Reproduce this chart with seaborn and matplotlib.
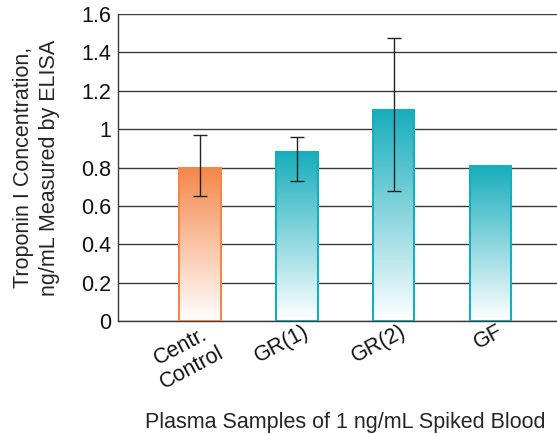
import matplotlib
matplotlib.use("Agg")
import matplotlib.pyplot as plt
import numpy as np
import pandas as pd
import seaborn as sns
from matplotlib.colors import LinearSegmentedColormap
from matplotlib.transforms import ScaledTranslation

samples = ['Centr.\nControl', 'GR(1)', 'GR(2)', 'GF']
conc = [0.80, 0.88, 1.10, 0.81]
err_low = [0.65, 0.73, 0.68, np.nan]
err_high = [0.97, 0.96, 1.475, np.nan]
top_colors = ['#f4874a', '#17adbc', '#17adbc', '#17adbc']

data = pd.DataFrame({'Sample': samples, 'Conc': conc})

sns.set_style("white")
plt.rcParams['font.family'] = ['Liberation Sans', 'DejaVu Sans']

fig = plt.figure(figsize=(5.57, 4.34), dpi=100)
ax = fig.add_axes([0.212, 0.260, 0.788, 0.708])

sns.barplot(data=data, x='Sample', y='Conc', ax=ax, width=0.43,
            color='white', linewidth=1.5, zorder=3)

grad = np.linspace(0, 1, 256).reshape(-1, 1)
for patch, col in zip(ax.patches, top_colors):
    patch.set_edgecolor(col)
    patch.set_facecolor('none')
    x0, y0 = patch.get_x(), patch.get_y()
    w, h = patch.get_width(), patch.get_height()
    cmap = LinearSegmentedColormap.from_list('g', ['white', col])
    im = ax.imshow(grad, cmap=cmap, aspect='auto', origin='lower',
                   extent=[x0, x0 + w, y0, y0 + h], zorder=2.5)
    im.set_clip_path(patch)

x = np.arange(len(samples))
mean = np.array(conc)
lo = mean - np.array(err_low)
hi = np.array(err_high) - mean
ax.errorbar(x, mean, yerr=[lo, hi], fmt='none', ecolor='#222222',
            elinewidth=1, capsize=5, capthick=1, zorder=4)

ax.set_xlim(-0.85, 3.69)
ax.set_ylim(0, 1.6)
ax.set_yticks(np.arange(0, 1.61, 0.2))
ax.set_yticklabels(['0', '0.2', '0.4', '0.6', '0.8', '1', '1.2', '1.4', '1.6'])
ax.yaxis.grid(True, color='#3a3a3a', linewidth=1, zorder=0)
ax.set_axisbelow(True)
for s in ['top', 'right']:
    ax.spines[s].set_visible(False)
for s in ['left', 'bottom']:
    ax.spines[s].set_color('#3a3a3a')
    ax.spines[s].set_linewidth(1)

ax.tick_params(axis='both', length=0, labelsize=15.5, colors='#111111')
ax.tick_params(axis='y', pad=5)
ax.tick_params(axis='x', pad=0)
offset = ScaledTranslation(0.06, 0, fig.dpi_scale_trans)
for lab in ax.get_xticklabels():
    lab.set_rotation(28)
    lab.set_ha('right')
    lab.set_rotation_mode('anchor')
    lab.set_multialignment('center')
    lab.set_transform(lab.get_transform() + offset)

ax.set_xlabel('Plasma Samples of 1 ng/mL Spiked Blood', fontsize=15.5)
ax.xaxis.set_label_coords(0.517, -0.295)
ax.set_ylabel('Troponin I Concentration,\nng/mL Measured by ELISA', fontsize=15.5,
              linespacing=1.35)
ax.yaxis.set_label_coords(-0.132, 0.5)

fig.savefig('out.png', dpi=100)
